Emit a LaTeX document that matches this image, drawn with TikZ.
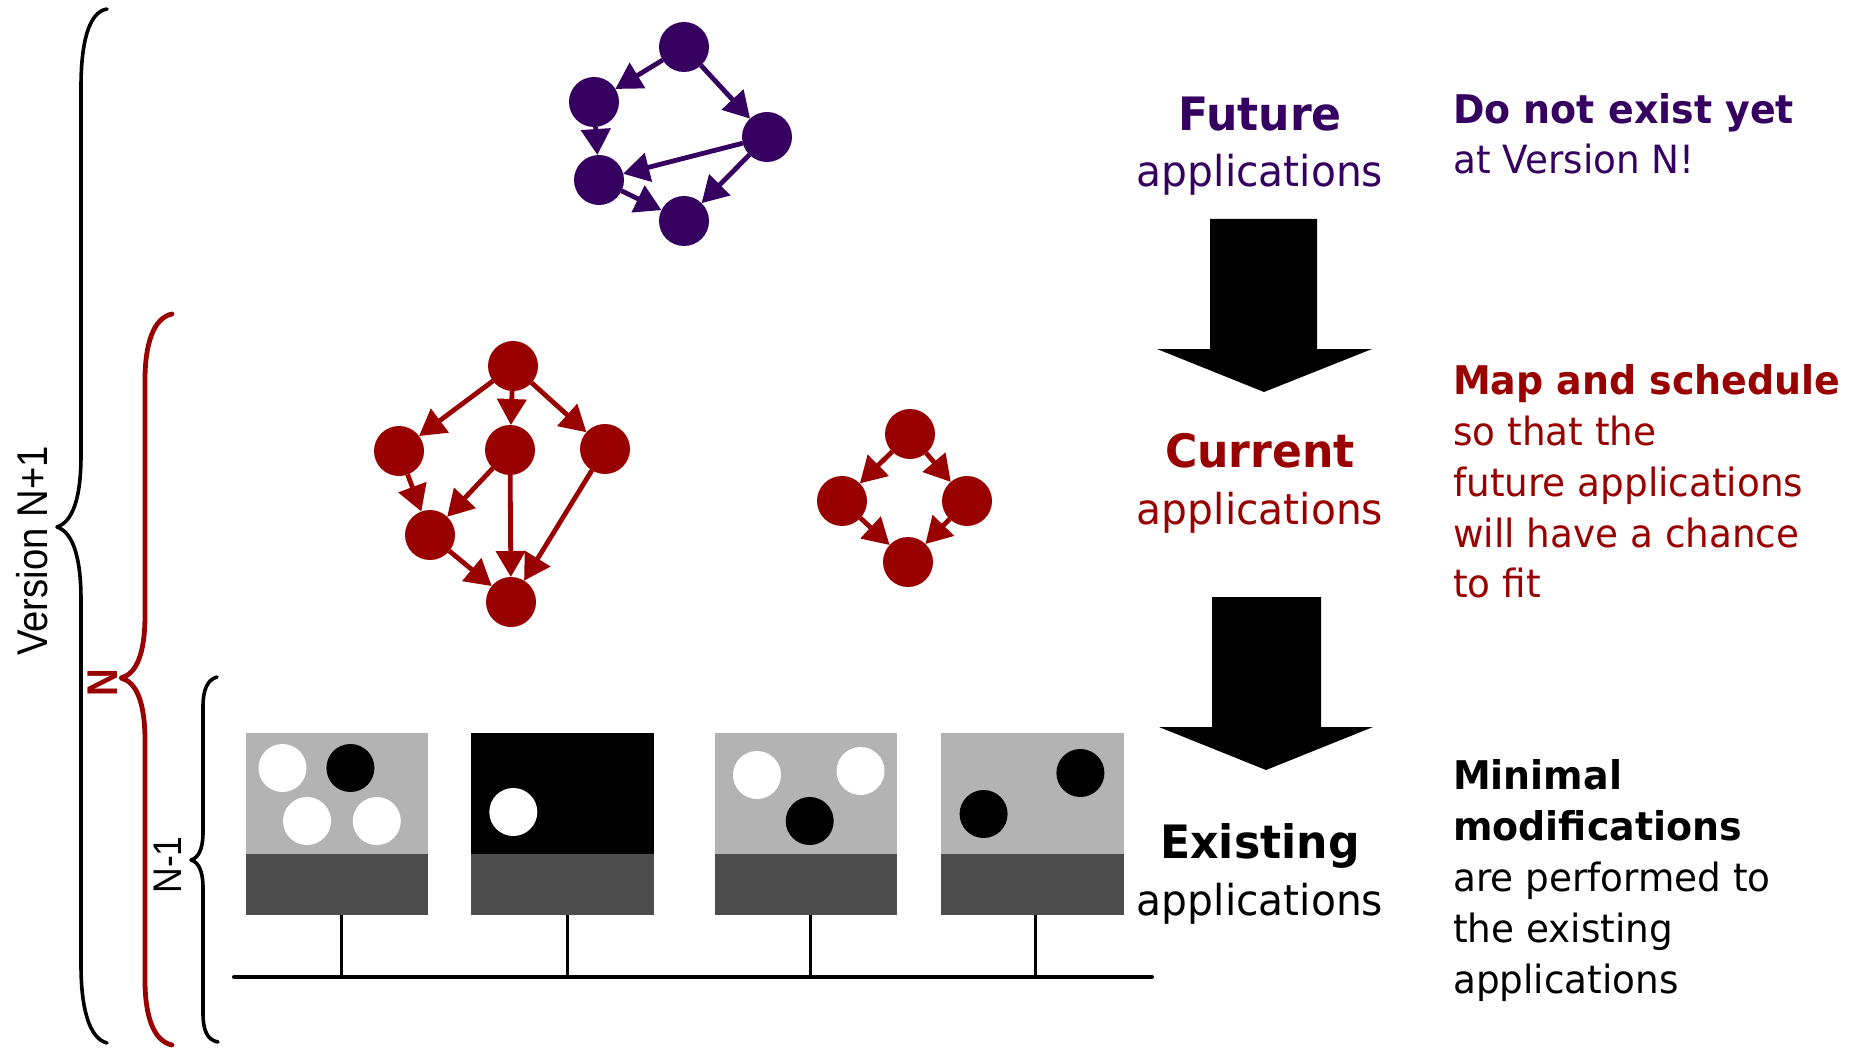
\documentclass[tikz,border=0pt]{standalone}
\usepackage{fontspec}
\usetikzlibrary{arrows.meta}
\newfontfamily\tahfont[FakeStretch=0.96]{DejaVu Sans}
\newfontfamily\arifont[FakeStretch=0.89]{Liberation Sans}
\definecolor{appviolet}{RGB}{54,0,96}
\definecolor{appred}{RGB}{153,0,0}
\definecolor{slotlight}{RGB}{179,179,179}
\definecolor{slotdark}{RGB}{77,77,77}
\tikzset{
  vtask/.style={circle, fill=appviolet, minimum size=50pt, inner sep=0pt, outer sep=0pt},
  rtask/.style={circle, fill=appred, minimum size=50pt, inner sep=0pt, outer sep=0pt},
  dep/.style={line width=4.8pt, -{Triangle[length=26pt 0, width=29pt 0]}},
  bracepath/.style={line width=3.6pt, line cap=round, line join=round},
  sidelabel/.style={font=\arifont\fontsize{43}{50}\selectfont, inner sep=0pt, rotate=90, anchor=base},
  ctitle/.style={font=\tahfont\bfseries\fontsize{46}{55}\selectfont, inner sep=0pt, anchor=base},
  csub/.style={font=\tahfont\fontsize{42.5}{51}\selectfont, inner sep=0pt, anchor=base},
  rtitle/.style={font=\tahfont\bfseries\fontsize{39.5}{48}\selectfont, inner sep=0pt, anchor=base west},
  rtext/.style={font=\tahfont\fontsize{38.9}{46}\selectfont, inner sep=0pt, anchor=base west},
  slottop/.style={rectangle, minimum width=182.5pt, minimum height=121pt, inner sep=0pt, outer sep=0pt},
  slotbot/.style={rectangle, fill=slotdark, minimum width=182.5pt, minimum height=61pt, inner sep=0pt, outer sep=0pt},
  task/.style={circle, minimum size=48pt, inner sep=0pt, outer sep=0pt},
  blockarrow/.style={fill=black},
  stem/.style={line width=3pt},
  bus/.style={line width=4pt, line cap=round}
}
\begin{document}
\begin{tikzpicture}[x=1pt,y=-1pt]
\useasboundingbox (0,0) rectangle (1859,1048);

% version braces
\draw[bracepath] (107,9) .. controls (88,12) and (81,45) .. (81,87) -- (81,455)
  .. controls (81,500) and (72,522) .. (57,527)
  .. controls (72,532) and (81,555) .. (81,600) -- (81,965)
  .. controls (81,1005) and (88,1038) .. (107,1043);
\draw[bracepath, appred, line width=4.8pt] (172,314) .. controls (153,318) and (145,345) .. (145,380) -- (145,615)
  .. controls (145,655) and (136,674) .. (121,678)
  .. controls (136,682) and (145,701) .. (145,741) -- (145,980)
  .. controls (145,1015) and (153,1041) .. (172,1045);
\draw[bracepath] (217,677) .. controls (207,680) and (203,690) .. (203,707) -- (203,832)
  .. controls (203,850) and (198,858) .. (191,860)
  .. controls (198,862) and (203,870) .. (203,888) -- (203,1013)
  .. controls (203,1030) and (207,1040) .. (218,1042);

\node[sidelabel] (lblnext) at (47,551) {Version N+1};
\node[sidelabel, text=appred, font=\arifont\bfseries\fontsize{43}{48}\selectfont] (lblcur) at (117.5,683) {N};
\node[sidelabel, font=\arifont\fontsize{40}{46}\selectfont] (lblprev) at (181.5,865) {N-1};

% future application graph
\node[vtask] (v1) at (684,47) {};
\node[vtask] (v2) at (594,102) {};
\node[vtask] (v3) at (767,137) {};
\node[vtask] (v4) at (599,180) {};
\node[vtask] (v5) at (684,221) {};
\begin{scope}[appviolet]
\draw[dep] (v1) -- (v2);
\draw[dep] (v1) -- (v3);
\draw[dep] (v2) -- (v4);
\draw[dep] (v3) -- (v4);
\draw[dep] (v3) -- (v5);
\draw[dep] (v4) -- (v5);
\end{scope}

% current application graphs
\node[rtask] (r1) at (513,366) {};
\node[rtask] (r2) at (399,451) {};
\node[rtask] (r3) at (510,450) {};
\node[rtask] (r4) at (605,449) {};
\node[rtask] (r5) at (430,535) {};
\node[rtask] (r6) at (511,602) {};
\node[rtask] (q1) at (910,434) {};
\node[rtask] (q2) at (842,501) {};
\node[rtask] (q3) at (967,501) {};
\node[rtask] (q4) at (908,562) {};
\begin{scope}[appred]
\draw[dep] (r1) -- (r2);
\draw[dep] (r1) -- (r3);
\draw[dep] (r1) -- (r4);
\draw[dep] (r2) -- (r5);
\draw[dep] (r3) -- (r5);
\draw[dep] (r3) -- (r6);
\draw[dep] (r4) -- (r6);
\draw[dep] (r5) -- (r6);
\draw[dep] (q1) -- (q2);
\draw[dep] (q1) -- (q3);
\draw[dep] (q2) -- (q4);
\draw[dep] (q3) -- (q4);
\end{scope}

% existing platform: processing slots on a shared bus
\node[slottop, fill=slotlight] (s1) at (337,793.5) {};
\node[slotbot] (s1b) at (337,884.5) {};
\node[slottop, fill=black] (s2) at (562.5,793.5) {};
\node[slotbot] (s2b) at (562.5,884.5) {};
\node[slottop, fill=slotlight] (s3) at (806,793.5) {};
\node[slotbot] (s3b) at (806,884.5) {};
\node[slottop, fill=slotlight] (s4) at (1032.4,793.5) {};
\node[slotbot] (s4b) at (1032.4,884.5) {};

\node[task, fill=white] (t11) at (282.5,768) {};
\node[task, fill=black] (t12) at (350.4,768) {};
\node[task, fill=white] (t13) at (307,821) {};
\node[task, fill=white] (t14) at (376.8,821) {};
\node[task, fill=white] (t21) at (513.3,812) {};
\node[task, fill=white] (t31) at (757,775) {};
\node[task, fill=white] (t32) at (860.5,771) {};
\node[task, fill=black] (t33) at (809.7,821) {};
\node[task, fill=black] (t41) at (1080.4,773) {};
\node[task, fill=black] (t42) at (983.6,814) {};

\coordinate (busL) at (234,977);
\coordinate (busR) at (1152,977);
\coordinate (st1) at (341,915);
\coordinate (st2) at (567,915);
\coordinate (st3) at (810,915);
\coordinate (st4) at (1035,915);
\draw[stem] (st1) -- (st1 |- busL);
\draw[stem] (st2) -- (st2 |- busL);
\draw[stem] (st3) -- (st3 |- busL);
\draw[stem] (st4) -- (st4 |- busL);
\draw[bus] (busL) -- (busR);

% block arrows between the stages
\fill[blockarrow] (1210,219) -- (1317,219) -- (1317,349) -- (1372,349) -- (1264,392) -- (1157,349) -- (1210,349) -- cycle;
\fill[blockarrow] (1212,597) -- (1321,597) -- (1321,727) -- (1373,727) -- (1266,770) -- (1159,727) -- (1212,727) -- cycle;

% stage captions
\node[ctitle, text=appviolet] (futt) at (1260,131) {Future};
\node[csub, text=appviolet] (futs) at (1260,187) {applications};
\node[ctitle, text=appred] (curt) at (1260,467) {Current};
\node[csub, text=appred] (curs) at (1260,524) {applications};
\node[ctitle] (ext) at (1260,858) {Existing};
\node[csub] (exs) at (1260,915) {applications};

% explanations
\node[rtitle, text=appviolet] (n1) at (1453,124) {Do not exist yet};
\node[rtext, text=appviolet] (n2) at (1453,174) {at Version N!};
\node[rtitle, text=appred] (m1) at (1453,394) {Map and schedule};
\node[rtext, text=appred] (m2) at (1453,445.5) {so that the};
\node[rtext, text=appred] (m3) at (1453,496) {future applications};
\node[rtext, text=appred] (m4) at (1453,547) {will have a chance};
\node[rtext, text=appred] (m5) at (1453,597.5) {to fit};
\node[rtitle] (e1) at (1453,789) {Minimal};
\node[rtitle] (e2) at (1453,840) {modifications};
\node[rtext] (e3) at (1453,891.5) {are performed to};
\node[rtext] (e4) at (1453,942) {the existing};
\node[rtext] (e5) at (1453,993) {applications};
\end{tikzpicture}
\end{document}
